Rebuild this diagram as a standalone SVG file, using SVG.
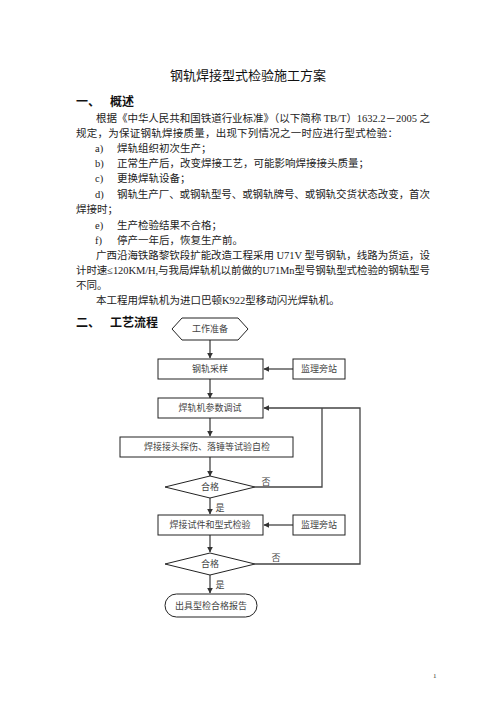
<svg xmlns="http://www.w3.org/2000/svg" width="496" height="702" viewBox="0 0 496 702">
<defs>
<marker id="ah" viewBox="0 0 10 10" refX="9" refY="5" markerWidth="6" markerHeight="6" orient="auto" markerUnits="userSpaceOnUse">
<path d="M0,0 L10,5 L0,10 z" fill="#333"/>
</marker>
<style>
.body{font-family:"Liberation Serif","Noto Sans CJK SC",serif;font-size:10.5px;fill:#222}
.title{font-family:"Noto Sans CJK SC",sans-serif;font-size:13px;fill:#111}
.head{font-family:"Noto Sans CJK SC",sans-serif;font-size:12px;font-weight:bold;fill:#111}
.box{fill:#fff;stroke:#222;stroke-width:1}
.lbl{font-family:"Liberation Serif","Noto Sans CJK SC",serif;font-size:9px;fill:#444;text-anchor:middle}
.conn{fill:none;stroke:#444;stroke-width:1.3}
</style>
</defs>
<rect width="496" height="702" fill="#fff"/>
<text class="title" x="248" y="80" text-anchor="middle">钢轨焊接型式检验施工方案</text>
<text class="head" x="76" y="106">一、</text>
<text class="head" x="110" y="106">概述</text>
<text class="body" x="96" y="122" textLength="334" lengthAdjust="spacing">根据《中华人民共和国铁道行业标准》（以下简称 TB/T）1632.2－2005 之</text>
<text class="body" x="76" y="137" textLength="322" lengthAdjust="spacing">规定，为保证钢轨焊接质量，出现下列情况之一时应进行型式检验：</text>
<text class="body" x="95" y="152">a)</text><text class="body" x="117" y="152">焊轨组织初次生产；</text>
<text class="body" x="95" y="167">b)</text><text class="body" x="117" y="167">正常生产后，改变焊接工艺，可能影响焊接接头质量；</text>
<text class="body" x="95" y="182">c)</text><text class="body" x="117" y="182">更换焊轨设备；</text>
<text class="body" x="95" y="198">d)</text><text class="body" x="117" y="198" textLength="313" lengthAdjust="spacing">钢轨生产厂、或钢轨型号、或钢轨牌号、或钢轨交货状态改变，首次</text>
<text class="body" x="76" y="213">焊接时；</text>
<text class="body" x="95" y="229">e)</text><text class="body" x="117" y="229">生产检验结果不合格；</text>
<text class="body" x="95" y="244">f)</text><text class="body" x="117" y="244">停产一年后，恢复生产前。</text>
<text class="body" x="96" y="259" textLength="334" lengthAdjust="spacing">广西沿海铁路黎钦段扩能改造工程采用 U71V 型号钢轨，线路为货运，设</text>
<text class="body" x="76" y="274" textLength="354" lengthAdjust="spacing">计时速≤120KM/H,与我局焊轨机以前做的U71Mn型号钢轨型式检验的钢轨型号</text>
<text class="body" x="76" y="289">不同。</text>
<text class="body" x="96" y="304">本工程用焊轨机为进口巴顿K922型移动闪光焊轨机。</text>
<text class="head" x="76" y="327">二、</text>
<text class="head" x="110" y="327">工艺流程</text>

<g id="connectors">
<line class="conn" x1="210" y1="340" x2="210" y2="358" marker-end="url(#ah)"/>
<line class="conn" x1="293" y1="369" x2="264" y2="369" marker-end="url(#ah)"/>
<line class="conn" x1="210" y1="379" x2="210" y2="398" marker-end="url(#ah)"/>
<line class="conn" x1="210" y1="418" x2="210" y2="436" marker-end="url(#ah)"/>
<line class="conn" x1="210" y1="457" x2="210" y2="476" marker-end="url(#ah)"/>
<line class="conn" x1="210" y1="498" x2="210" y2="514" marker-end="url(#ah)"/>
<line class="conn" x1="293" y1="525" x2="264" y2="525" marker-end="url(#ah)"/>
<line class="conn" x1="210" y1="535" x2="210" y2="552" marker-end="url(#ah)"/>
<line class="conn" x1="210" y1="575" x2="210" y2="593" marker-end="url(#ah)"/>
<polyline class="conn" points="255,487 322,487 322,408"/>
<polyline class="conn" points="255,564 360,564 360,408 264,408" marker-end="url(#ah)"/>
<text class="lbl" x="266" y="485">否</text>
<text class="lbl" x="276" y="561">否</text>
<text class="lbl" x="220" y="511">是</text>
<text class="lbl" x="220" y="588">是</text>
</g>

<g id="n_start"><polygon class="box" points="172,329 182,318 238,318 248,329 238,340 182,340"/><text class="lbl" x="210" y="332">工作准备</text></g>
<g id="n_sample"><rect class="box" x="158" y="359" width="105" height="20"/><text class="lbl" x="210" y="372">钢轨采样</text></g>
<g id="n_sup1"><rect class="box" x="293" y="359" width="52" height="20"/><text class="lbl" x="319" y="372">监理旁站</text></g>
<g id="n_param"><rect class="box" x="158" y="398" width="105" height="20"/><text class="lbl" x="210" y="411">焊轨机参数调试</text></g>
<g id="n_selfcheck"><rect class="box" x="120" y="437" width="173" height="20"/><text class="lbl" x="207" y="450">焊接接头探伤、落锤等试验自检</text></g>
<g id="n_ok1"><polygon class="box" points="165,487 210,476 255,487 210,498"/><text class="lbl" x="210" y="490">合格</text></g>
<g id="n_test"><rect class="box" x="158" y="515" width="105" height="20"/><text class="lbl" x="210" y="528">焊接试件和型式检验</text></g>
<g id="n_sup2"><rect class="box" x="293" y="515" width="52" height="20"/><text class="lbl" x="319" y="528">监理旁站</text></g>
<g id="n_ok2"><polygon class="box" points="165,564 210,553 255,564 210,575"/><text class="lbl" x="210" y="567">合格</text></g>
<g id="n_report"><rect class="box" x="165" y="594" width="92" height="23" rx="11.5"/><text class="lbl" x="211" y="609">出具型检合格报告</text></g>

<text x="433" y="678" style="font-family:'Liberation Serif',serif;font-size:7px;fill:#333">1</text>
</svg>
